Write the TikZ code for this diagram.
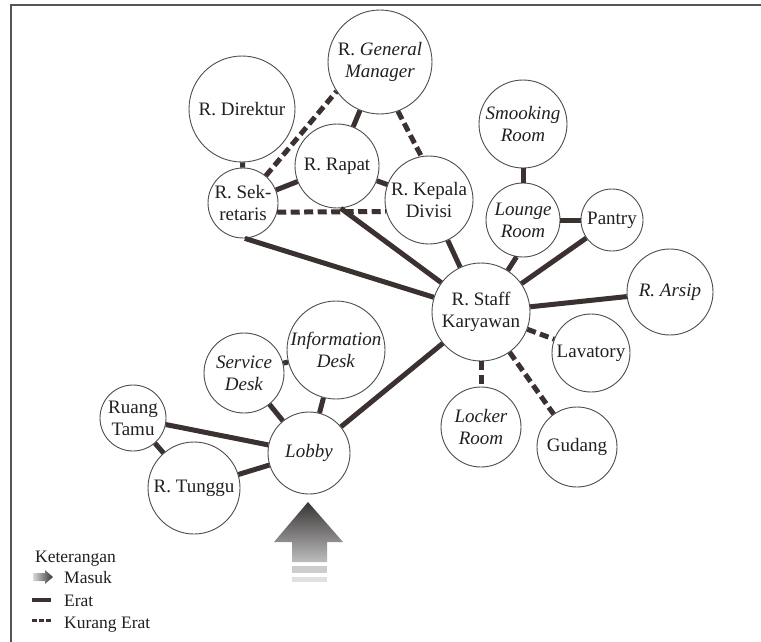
\documentclass[tikz,border=0pt]{standalone}
\usepackage{fontspec}
\setmainfont{Liberation Serif}
\definecolor{ink}{HTML}{231F20}
\definecolor{circgray}{HTML}{4D4D4D}
\definecolor{linkcol}{HTML}{3A3130}
\definecolor{framecol}{HTML}{555555}
\definecolor{arrowdark}{HTML}{383434}
\definecolor{arrowlight}{HTML}{BDBDBD}
\begin{document}
\begin{tikzpicture}[x=1pt,y=-1pt,
  room/.style={circle, draw=circgray, line width=0.9pt, fill=white, inner sep=0pt,
    align=center, font=\fontsize{19}{22}\selectfont, text=ink},
  erat/.style={draw=linkcol, line width=5pt},
  kurang/.style={draw=linkcol, line width=5pt, dash pattern=on 9pt off 4.5pt},
  legendtext/.style={anchor=base west, inner sep=0pt, text=ink, font=\fontsize{17.5}{20}\selectfont},
]
% canvas and frame
\fill[white] (0,0) rectangle (761,642);
\useasboundingbox (0,0) rectangle (761,642);
\draw[framecol, line width=1.3pt] (11,642) -- (11,5) -- (761,5);

% rooms
\node[room, minimum size=104] (gm) at (380,62) {R. \textit{General}\\\textit{Manager}};
\node[room, minimum size=106] (dir) at (242,109) {R. Direktur};
\node[room, minimum size=84] (rapat) at (337,166) {R. Rapat};
\node[room, minimum size=70] (sek) at (243,203) {R. Sek-\\retaris};
\node[room, minimum size=88] (kep) at (429,200) {R. Kepala\\Divisi};
\node[room, minimum size=88] (smoke) at (523,124) {\textit{Smooking}\\\textit{Room}};
\node[room, minimum size=74] (lounge) at (523,220) {\textit{Lounge}\\\textit{Room}};
\node[room, minimum size=62] (pantry) at (612,220) {Pantry};
\node[room, minimum size=98] (staff) at (481,312) {R. Staff\\Karyawan};
\node[room, minimum size=86] (arsip) at (670,292) {\textit{R. Arsip}};
\node[room, minimum size=78] (lav) at (591,353) {Lavatory};
\node[room, minimum size=80] (locker) at (481,427) {\textit{Locker}\\\textit{Room}};
\node[room, minimum size=80] (gudang) at (577,447) {Gudang};
\node[room, minimum size=82] (lobby) at (309,453) {\textit{Lobby}};
\node[room, minimum size=80] (service) at (244,373) {\textit{Service}\\\textit{Desk}};
\node[room, minimum size=98] (info) at (336,350) {\textit{Information}\\\textit{Desk}};
\node[room, minimum size=66] (tamu) at (133,418) {Ruang\\Tamu};
\node[room, minimum size=92] (tunggu) at (194,488) {R. Tunggu};

% close relations
\draw[erat] (dir) -- (sek);
\draw[erat] (sek) -- (rapat);
\draw[erat] (rapat) -- (gm);
\draw[erat] (rapat) -- (kep);
\draw[erat] (sek.-87) -- (staff);
\draw[erat] (rapat.-85) -- (staff);
\draw[erat] (kep) -- (staff);
\draw[erat] (smoke) -- (lounge);
\draw[erat] (lounge) -- (pantry);
\draw[erat] (lounge.-100) -- (staff);
\draw[erat] (pantry) -- (staff);
\draw[erat] (staff) -- (arsip);
\draw[erat] (staff) -- (lobby);
\draw[erat] (lobby) -- (service);
\draw[erat] (lobby) -- (info);
\draw[erat] (service) -- (info);
\draw[erat] (lobby) -- (tamu);
\draw[erat] (lobby) -- (tunggu);
\draw[erat] (tamu) -- (tunggu);

% less close relations
\draw[kurang] (sek.50) -- (gm.214);
\draw[kurang] (gm.-70) -- (kep.100);
\draw[kurang] (sek.-15) -- (kep.-165);
\draw[kurang] (staff) -- (lav);
\draw[kurang] (staff) -- (locker);
\draw[kurang] (staff) -- (gudang);

% entrance arrow
\shade[top color=arrowdark, bottom color=arrowlight]
  (308,502) -- (343,542) -- (327,542) -- (327,562) -- (292,562) -- (292,542) -- (274,542) -- cycle;
\fill[black!20] (292,566) rectangle (327,573);
\fill[black!12] (292,577) rectangle (327,582);

% legend
\node[legendtext] (ket) at (35,562) {Keterangan};
\shade[left color=black!15, right color=arrowdark]
  (33,573) -- (45,573) -- (45,570) -- (53,577) -- (45,584) -- (45,581) -- (33,581) -- cycle;
\node[legendtext] (masuk) at (64,583) {Masuk};
\coordinate (e1) at (32,600);
\coordinate (e2) at (51,600);
\draw[draw=linkcol, line width=3.5pt] (e1) -- (e2);
\node[legendtext] (erat) at (64,606) {Erat};
\coordinate (k1) at (32,620);
\coordinate (k2) at (51,620);
\draw[draw=linkcol, line width=3pt, dash pattern=on 4.5pt off 2.5pt] (k1) -- (k2);
\node[legendtext] (kur) at (64,628) {Kurang Erat};
\end{tikzpicture}
\end{document}
